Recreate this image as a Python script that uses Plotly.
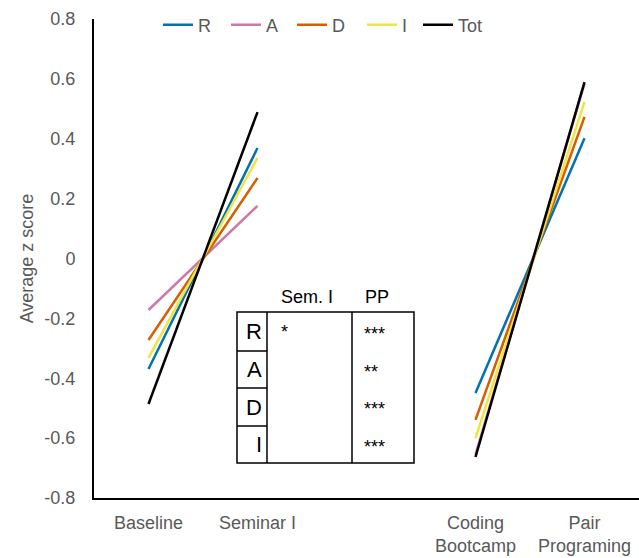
import plotly.graph_objects as go

# ---- data ----
x_labels = ["Baseline", "Seminar I", "", "Coding<br>Bootcamp", "Pair<br>Programing"]
x_pos = [0, 1, 2, 3, 4]
series_names = ["R", "A", "D", "I", "Tot"]
R_vals = [-0.369, 0.369, None, -0.449, 0.402]
A_vals = [-0.172, 0.176, None, -0.655, 0.585]
D_vals = [-0.272, 0.269, None, -0.539, 0.473]
I_vals = [-0.332, 0.336, None, -0.600, 0.523]
Tot_vals = [-0.486, 0.489, None, -0.663, 0.589]
y_ticks = [0.8, 0.6, 0.4, 0.2, 0, -0.2, -0.4, -0.6, -0.8]
y_ticktext = ["0.8", "0.6", "0.4", "0.2", "0", "-0.2", "-0.4", "-0.6", "-0.8"]

table_headers = ["Sem. I", "PP"]
table_rows = ["R", "A", "D", "I"]
sem_sig = ["*", "", "", ""]
pp_sig = ["***", "**", "***", "***"]

# ---- styles ----
colors = ["#0072B2", "#CC79A7", "#D55E00", "#F0E442", "#000000"]
legend_entry_widths = [23, 21, 25, 11, 30]
all_vals = [R_vals, A_vals, D_vals, I_vals, Tot_vals]

FONT = "Liberation Sans, Arial, sans-serif"
GRAY = "#595959"
W, H = 639, 558
ML, MR, MT, MB = 94, 0, 19, 60
PW, PH = W - ML - MR, H - MT - MB


def px(xp):
    return (xp - ML) / PW


def py(yp):
    return (H - MB - yp) / PH


fig = go.Figure()
for name, vals, c, lwid in zip(series_names, all_vals, colors, legend_entry_widths):
    fig.add_trace(go.Scatter(
        x=x_pos, y=vals, name=name, mode="lines",
        line=dict(color=c, width=2.5), connectgaps=False, legendwidth=lwid,
    ))

# ---- inset table ----
tx0, tx1, tx2, tx3 = 237, 267, 352, 414
ty = [312, 351, 388, 426, 463]
shapes = []
lw = 1.5
shapes.append(dict(type="rect", xref="paper", yref="paper",
                   x0=px(tx0), x1=px(tx3), y0=py(ty[-1]), y1=py(ty[0]),
                   line=dict(color="black", width=lw)))
for xv in (tx1, tx2):
    shapes.append(dict(type="line", xref="paper", yref="paper",
                       x0=px(xv), x1=px(xv), y0=py(ty[-1]), y1=py(ty[0]),
                       line=dict(color="black", width=lw)))
for yv in ty[1:-1]:
    shapes.append(dict(type="line", xref="paper", yref="paper",
                       x0=px(tx0), x1=px(tx1), y0=py(yv), y1=py(yv),
                       line=dict(color="black", width=lw)))

annotations = []
for hdr, cx in zip(table_headers, (307, 377)):
    annotations.append(dict(text=hdr, xref="paper", yref="paper",
                            x=px(cx), y=py(297), xanchor="center", yanchor="middle",
                            showarrow=False, font=dict(family=FONT, size=18, color="black")))
for i, lab in enumerate(table_rows):
    cy = (ty[i] + ty[i + 1]) / 2
    annotations.append(dict(text=lab, xref="paper", yref="paper",
                            x=px(264), y=py(cy), xanchor="right", yanchor="middle",
                            showarrow=False, font=dict(family=FONT, size=22, color="black")))
    if sem_sig[i]:
        annotations.append(dict(text=sem_sig[i], xref="paper", yref="paper",
                                x=px(279), y=py(ty[i] + 20), xanchor="left", yanchor="middle",
                                showarrow=False, font=dict(family=FONT, size=18, color="black")))
    if pp_sig[i]:
        annotations.append(dict(text=pp_sig[i], xref="paper", yref="paper",
                                x=px(362), y=py(cy + 2), xanchor="left", yanchor="middle",
                                showarrow=False, font=dict(family=FONT, size=18, color="black")))

fig.update_layout(
    width=W, height=H,
    margin=dict(l=ML, r=MR, t=MT, b=MB, autoexpand=False),
    paper_bgcolor="white", plot_bgcolor="white",
    font=dict(family=FONT, size=18, color=GRAY),
    showlegend=True,
    legend=dict(orientation="h", x=px(158), y=py(25), xanchor="left", yanchor="middle",
                font=dict(family=FONT, size=18, color=GRAY), bgcolor="rgba(0,0,0,0)",
                itemwidth=30, entrywidthmode="pixels", tracegroupgap=0),
    shapes=shapes,
    annotations=annotations,
    xaxis=dict(range=[-0.5, 4.5], tickvals=x_pos, ticktext=x_labels,
               showgrid=False, zeroline=False, showline=True, linecolor="black", linewidth=2,
               ticks="", ticklabelstandoff=7, tickfont=dict(size=18, color=GRAY), fixedrange=True),
    yaxis=dict(range=[-0.8, 0.8], tickvals=y_ticks, ticktext=y_ticktext,
               showgrid=False, zeroline=False, showline=True, linecolor="black", linewidth=2,
               ticks="", ticklabelstandoff=13, tickfont=dict(size=18, color=GRAY),
               title=dict(text="Average z score", font=dict(size=18, color=GRAY), standoff=6),
               fixedrange=True),
)

fig.write_html("out.html", config={"displayModeBar": False},
               post_script="document.body.style.margin='0';document.body.style.overflow='hidden';")
